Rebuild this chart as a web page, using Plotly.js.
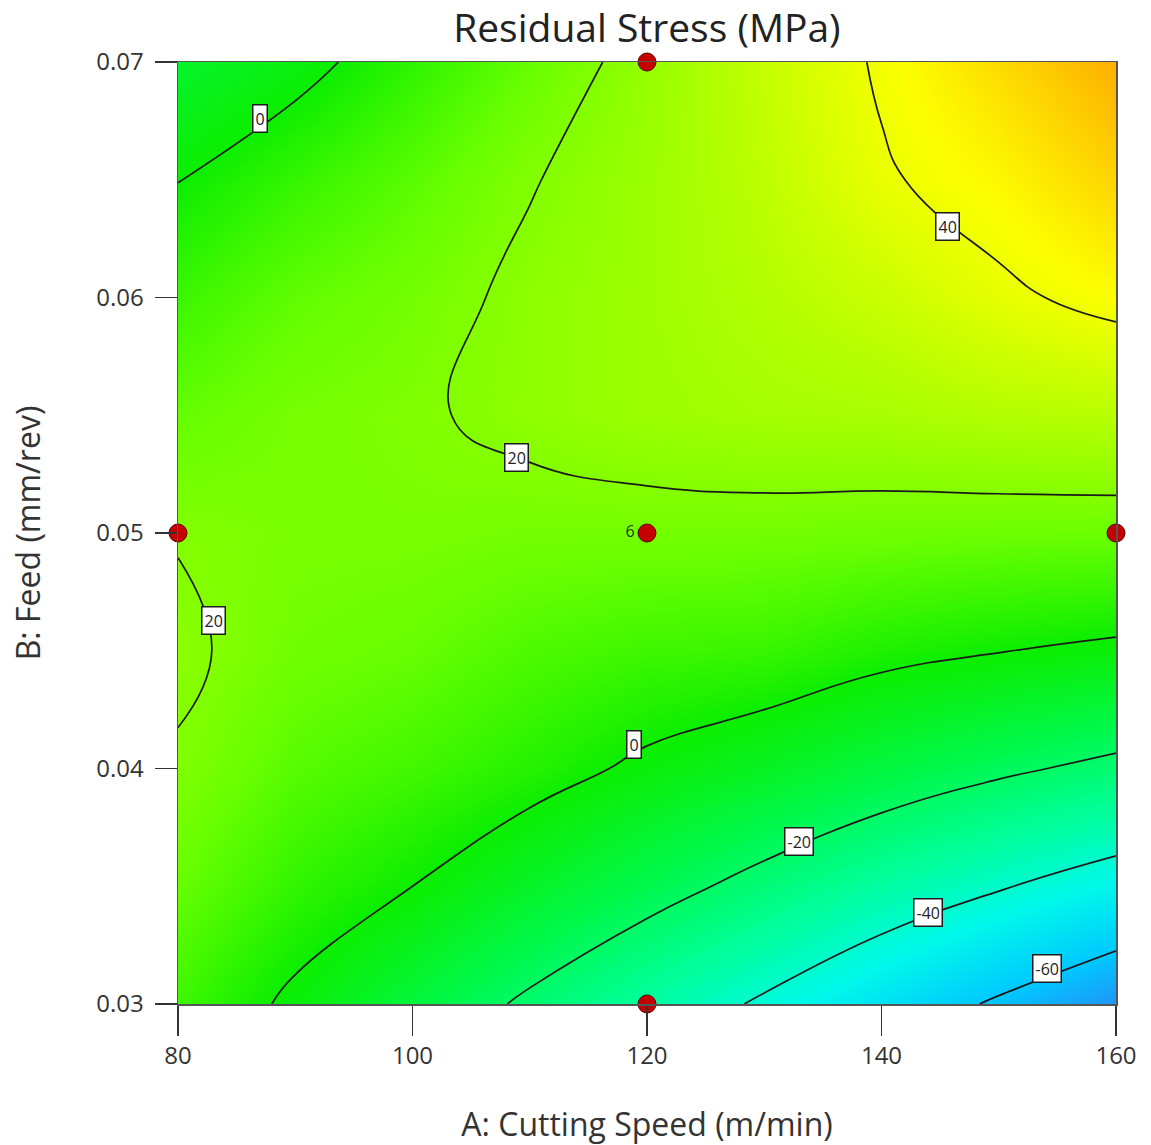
<!DOCTYPE html>
<html><head><meta charset="utf-8">
<script src="https://cdn.plot.ly/plotly-3.0.1.min.js"></script>
<style>html,body{margin:0;padding:0;background:#fff}</style>
</head><body><div id="chart" style="width:1151px;height:1145px"></div>
<script>
// A: Cutting Speed (m/min)
const speed = [80, 90, 100, 110, 120, 130, 140, 150, 160];
// B: Feed (mm/rev)
const feed = [0.030, 0.035, 0.040, 0.045, 0.050, 0.055, 0.060, 0.065, 0.070];
// Residual stress (MPa), one row per feed value, columns follow speed
const stress_f030 = [8, -2, -12, -21.9, -31.7, -41.7, -51.8, -61.6, -71.5];
const stress_f035 = [14.5, 6, 0, -8, -15.6, -23.6, -31.9, -39.1, -46];
const stress_f040 = [19.2, 12, 8.5, 4, -1.9, -7, -12.8, -18.1, -22.7];
const stress_f045 = [21.5, 16.3, 14.5, 10.5, 8, 7, 2.9, 0.3, -2];
const stress_f050 = [19.6, 18, 18, 17, 17, 16.8, 16.1, 15.5, 15.3];
const stress_f055 = [14, 17.5, 19, 22, 24.5, 26.2, 27, 29, 30];
const stress_f060 = [7.5, 13.5, 17, 21.8, 25, 29, 33, 38.3, 42.6];
const stress_f065 = [-0.2, 6.5, 12.5, 19.5, 24.5, 31, 39, 44, 51.5];
const stress_f070 = [-9, -3.2, 5.5, 14.4, 23.4, 32.3, 41.1, 50, 59];
const stressGrid = [stress_f030, stress_f035, stress_f040, stress_f045, stress_f050,
                    stress_f055, stress_f060, stress_f065, stress_f070];

// Design points
const runSpeed = [80, 120, 160, 120, 120];
const runFeed = [0.05, 0.05, 0.05, 0.07, 0.03];
const runLabel = ['', '6', '', '', ''];

// Tick labels
const xTicks = [80, 100, 120, 140, 160];
const yTicks = [0.03, 0.04, 0.05, 0.06, 0.07];
const yTickText = ['0.03', '0.04', '0.05', '0.06', '0.07'];

const FONT = 'Open Sans, Noto Sans, sans-serif';

const contourTrace = {
  type: 'contour',
  x: speed, y: feed, z: stressGrid,
  zauto: false, zmin: -75, zmax: 60,
  colorscale: [
    [0.000, '#2a86f5'],
    [0.111, '#00c8ff'],
    [0.222, '#00f8ea'],
    [0.333, '#00ff98'],
    [0.444, '#00f84a'],
    [0.556, '#0cee00'],
    [0.667, '#6aff00'],
    [0.778, '#b8ff00'],
    [0.870, '#fcff00'],
    [1.000, '#ffaa00']
  ],
  showscale: false,
  zsmooth: 'best',
  contours: {start: -60, end: 40, size: 20, coloring: 'heatmap', showlabels: false},
  line: {color: '#1a1a1a', width: 1.7, smoothing: 1.3},
  hoverinfo: 'skip'
};

const pointsTrace = {
  type: 'scatter', mode: 'markers+text',
  x: runSpeed, y: runFeed, text: runLabel,
  textposition: 'middle left',
  textfont: {family: FONT, size: 16, color: '#1d3a1d'},
  marker: {size: 18, color: '#c40000', line: {color: '#5a0000', width: 1}},
  cliponaxis: false, hoverinfo: 'skip'
};

function lab(x, y, t) {
  return {x: x, y: y, xref: 'x', yref: 'y', text: t, showarrow: false,
    font: {family: FONT, size: 16, color: '#222'},
    bgcolor: '#ffffff', bordercolor: '#1c1c1c', borderwidth: 1.5, borderpad: 2};
}

const layout = {
  width: 1151, height: 1145,
  margin: {l: 178, r: 35, t: 62, b: 141},
  paper_bgcolor: '#ffffff', plot_bgcolor: '#ffffff',
  showlegend: false,
  title: {text: 'Residual Stress (MPa)', font: {family: FONT, size: 39, color: '#222'},
          x: 0.562, xref: 'container', xanchor: 'center', y: 0.975, yref: 'container', yanchor: 'middle'},
  xaxis: {
    range: [80, 160], tickvals: xTicks, ticks: 'outside', ticklen: 30, tickwidth: 1.3, tickcolor: '#333',
    showline: true, mirror: true, linecolor: '#555', linewidth: 1.5, showgrid: false, zeroline: false,
    tickfont: {family: FONT, size: 24, color: '#333'},
    title: {text: 'A: Cutting Speed (m/min)', font: {family: FONT, size: 32, color: '#333'}, standoff: 44}
  },
  yaxis: {
    range: [0.03, 0.07], tickvals: yTicks, ticktext: yTickText, ticks: 'outside', ticklen: 22, tickwidth: 1.3, tickcolor: '#333',
    showline: true, mirror: true, linecolor: '#555', linewidth: 1.5, showgrid: false, zeroline: false,
    tickfont: {family: FONT, size: 24, color: '#333'}, ticklabelstandoff: 6,
    title: {text: 'B: Feed (mm/rev)', font: {family: FONT, size: 32, color: '#333'}, standoff: 46}
  },
  annotations: [
    lab(87.0, 0.0676, '0'),
    lab(108.9, 0.0532, '20'),
    lab(145.6, 0.0630, '40'),
    lab(83.0, 0.0463, '20'),
    lab(118.9, 0.0410, '0'),
    lab(133.0, 0.0369, '-20'),
    lab(144.0, 0.0339, '-40'),
    lab(154.1, 0.0315, '-60')
  ]
};

Plotly.newPlot('chart', [contourTrace, pointsTrace], layout, {displayModeBar: false, staticPlot: true});
</script></body></html>
